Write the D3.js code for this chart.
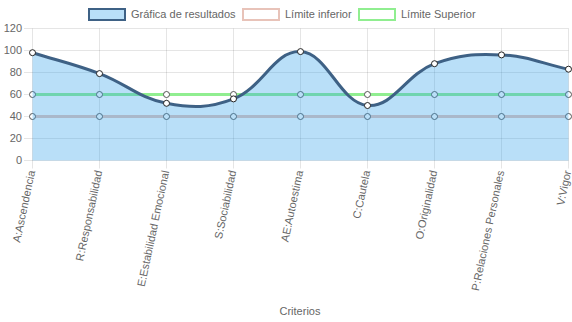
<!DOCTYPE html>
<html>
<head>
<meta charset="utf-8">
<script src="https://cdn.jsdelivr.net/npm/d3@7"></script>
<style>
  html, body { margin: 0; padding: 0; background: #fff; }
  svg { display: block; font-family: "Liberation Sans", Arial, Helvetica, sans-serif; }
</style>
</head>
<body>
<svg id="chart" width="572" height="322"></svg>
<script>
// Criterios evaluados
const categories = [
  "A:Ascendencia", "R:Responsabilidad", "E:Estabilidad Emocional",
  "S:Sociabilidad", "AE:Autoestima", "C:Cautela", "O:Originalidad",
  "P:Relaciones Personales", "V:Vigor"
];
// Gráfica de resultados
const resultados = [98, 79, 52, 56, 99, 50, 88, 96, 83];
// Límites
const limiteInferior = [40, 40, 40, 40, 40, 40, 40, 40, 40];
const limiteSuperior = [60, 60, 60, 60, 60, 60, 60, 60, 60];
const yTicks = [0, 20, 40, 60, 80, 100, 120];
const seriesNames = ["Gráfica de resultados", "Límite inferior", "Límite Superior"];

const svg = d3.select("#chart");
const textColor = "#666";
const gridColor = "rgba(0,0,0,0.1)";
const fontSize = 11;

const x = d3.scalePoint().domain(categories).range([32.5, 568.5]);
const y = d3.scaleLinear().domain([0, 120]).range([160.5, 28.5]);
const areaTop = y(120), areaBottom = y(0);

// Spline matching a tension-0.4 distance-weighted bezier
function SplineCurve(context) { this._context = context; }
SplineCurve.prototype = {
  areaStart() { this._line = 0; },
  areaEnd() { this._line = NaN; },
  lineStart() { this._pts = []; },
  point(px, py) { this._pts.push([+px, +py]); },
  lineEnd() {
    const p = this._pts, n = p.length, t = 0.4, ctx = this._context;
    if (n) {
      const cps = p.map((cur, i) => {
        const prev = p[Math.max(0, i - 1)], next = p[Math.min(n - 1, i + 1)];
        const d01 = Math.hypot(cur[0] - prev[0], cur[1] - prev[1]);
        const d12 = Math.hypot(next[0] - cur[0], next[1] - cur[1]);
        let s01 = d01 / (d01 + d12), s12 = d12 / (d01 + d12);
        if (!isFinite(s01)) s01 = 0;
        if (!isFinite(s12)) s12 = 0;
        const fa = t * s01, fb = t * s12;
        const clampY = v => Math.max(areaTop, Math.min(areaBottom, v));
        return {
          prev: [cur[0] - fa * (next[0] - prev[0]), clampY(cur[1] - fa * (next[1] - prev[1]))],
          next: [cur[0] + fb * (next[0] - prev[0]), clampY(cur[1] + fb * (next[1] - prev[1]))]
        };
      });
      if (this._line) ctx.lineTo(p[0][0], p[0][1]); else ctx.moveTo(p[0][0], p[0][1]);
      for (let i = 1; i < n; i++) {
        const a = cps[i - 1].next, b = cps[i].prev;
        ctx.bezierCurveTo(a[0], a[1], b[0], b[1], p[i][0], p[i][1]);
      }
    }
    if (this._line || (this._line !== 0 && n === 1)) ctx.closePath();
    this._line = 1 - this._line;
  }
};
const splineCurve = context => new SplineCurve(context);

// Grid lines and tick marks
const grid = svg.append("g");
grid.selectAll(".hgrid").data(yTicks).join("line")
  .attr("x1", 24).attr("x2", x.range()[1])
  .attr("y1", d => y(d)).attr("y2", d => y(d))
  .attr("stroke", gridColor).attr("stroke-width", 1);
grid.selectAll(".vgrid").data(categories).join("line")
  .attr("x1", d => x(d)).attr("x2", d => x(d))
  .attr("y1", areaTop).attr("y2", areaBottom + 8)
  .attr("stroke", gridColor).attr("stroke-width", 1);

// Y tick labels
svg.append("g").selectAll("text").data(yTicks).join("text")
  .attr("x", 22).attr("y", d => y(d)).attr("dy", "0.35em")
  .attr("text-anchor", "end").attr("fill", textColor)
  .attr("font-size", fontSize).text(d => d);

// X tick labels (rotated)
svg.append("g").selectAll("text").data(categories).join("text")
  .attr("transform", d => `translate(${x(d) - 1},${areaBottom + 10}) rotate(-78)`)
  .attr("dy", "0.35em")
  .attr("text-anchor", "end").attr("fill", textColor)
  .attr("font-size", fontSize).text(d => d);

// Axis title
svg.append("text").attr("x", 300).attr("y", 315)
  .attr("text-anchor", "middle").attr("fill", textColor)
  .attr("font-size", fontSize).text("Criterios");

const line = d3.line().x((d, i) => x(categories[i])).y(d => y(d)).curve(splineCurve);
const area = d3.area().x((d, i) => x(categories[i])).y0(y(0)).y1(d => y(d)).curve(splineCurve);

function drawPoints(values, stroke) {
  svg.append("g").selectAll("circle").data(values).join("circle")
    .attr("cx", (d, i) => x(categories[i])).attr("cy", d => y(d))
    .attr("r", 3).attr("fill", "#fff")
    .attr("stroke", stroke).attr("stroke-width", 1);
}

// Límite Superior
svg.append("path").datum(limiteSuperior).attr("d", line)
  .attr("fill", "none").attr("stroke", "#90ee90").attr("stroke-width", 3);
drawPoints(limiteSuperior, "#555");

// Límite inferior
svg.append("path").datum(limiteInferior).attr("d", line)
  .attr("fill", "none").attr("stroke", "#e8c3b9").attr("stroke-width", 3);
drawPoints(limiteInferior, "#555");

// Gráfica de resultados
svg.append("path").datum(resultados).attr("d", area)
  .attr("fill", "rgba(54,162,235,0.35)");
svg.append("path").datum(resultados).attr("d", line)
  .attr("fill", "none").attr("stroke", "#3e6185").attr("stroke-width", 3);
drawPoints(resultados, "#222");

// Legend
const legendItems = [
  { name: seriesNames[0], fill: "rgba(54,162,235,0.35)", stroke: "#3e6185", bx: 88 },
  { name: seriesNames[1], fill: "#fff", stroke: "#e8c3b9", bx: 242 },
  { name: seriesNames[2], fill: "#fff", stroke: "#90ee90", bx: 358 }
];
const legend = svg.append("g");
const li = legend.selectAll("g").data(legendItems).join("g");
li.append("rect").attr("x", d => d.bx + 1).attr("y", 9).attr("width", 36).attr("height", 11)
  .attr("fill", d => d.fill).attr("stroke", d => d.stroke).attr("stroke-width", 2);
li.append("text").attr("x", d => d.bx + 43).attr("y", 14.5).attr("dy", "0.35em")
  .attr("fill", textColor).attr("font-size", fontSize).text(d => d.name);
</script>
</body>
</html>
